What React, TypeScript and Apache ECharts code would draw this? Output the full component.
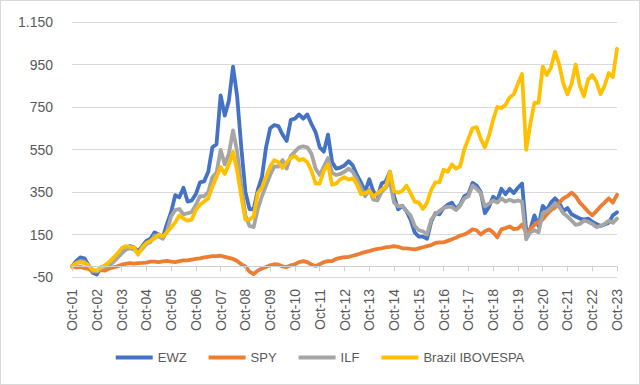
import React, { useEffect, useRef } from "react";
import * as echarts from "echarts";

const yearsShort = ["01","02","03","04","05","06","07","08","09","10","11","12","13","14","15","16","17","18","19","20","21","22","23"];
const monthNames = ["Oct", "Dec", "Feb", "Apr", "Jun", "Aug"];

const ewz = [0,25,42,38,5,-30,
-38,-5,0,5,25,50,
65,85,95,90,70,95,
120,130,160,150,137,200,
255,335,325,370,305,310,
340,395,400,445,560,575,
805,710,780,940,800,560,
350,270,268,360,420,560,
650,665,660,620,590,690,
695,715,695,715,670,632,
560,540,620,490,460,465,
475,495,475,430,395,352,
410,352,330,390,400,445,
330,268,285,260,220,160,
140,140,130,210,250,245,
275,290,300,270,290,330,
340,393,380,350,250,280,
328,310,365,340,365,345,
370,390,170,175,240,190,
285,265,300,320,300,260,
275,245,235,225,220,225,
210,200,190,197,205,240,
255];

const spy = [0,-5,-2,-8,-12,-25,
-22,-18,-20,-10,-5,0,
8,12,15,13,15,16,
18,22,22,20,23,26,
22,20,25,28,28,32,
35,38,42,45,48,48,
50,45,40,35,25,10,
0,-25,-36,-20,-10,-3,
5,10,8,0,-3,5,
10,20,25,20,8,2,
10,20,25,25,35,40,
43,45,50,55,62,67,
72,78,82,85,90,92,
95,92,85,85,82,80,
85,90,95,100,110,113,
113,120,128,135,145,150,
160,174,170,150,165,174,
160,137,174,180,188,175,
178,197,160,175,195,211,
220,245,265,277,300,320,
330,347,330,300,280,258,
240,260,282,300,320,300,
337];

const ilf = [0,15,25,22,5,-20,
-25,-10,-3,5,20,40,
60,78,85,80,62,82,
105,115,145,140,130,165,
235,265,270,245,250,255,
290,330,330,350,420,440,
548,480,530,640,540,380,
240,190,185,270,330,380,
430,470,470,500,460,520,
540,560,565,560,530,460,
430,470,510,440,430,435,
445,460,445,410,370,330,
360,314,310,350,370,400,
300,282,285,260,240,190,
170,165,150,220,245,260,
275,280,280,265,285,320,
330,380,365,345,282,295,
310,300,320,305,314,305,
310,305,127,160,170,160,
250,260,275,295,280,250,
235,215,195,200,215,210,
200,185,190,200,215,205,
225];

const ibovespa = [0,15,20,15,5,-15,
-20,-5,5,20,40,60,
85,95,92,90,55,90,
110,120,132,150,141,160,
183,207,240,225,215,220,
265,290,305,320,375,420,
468,435,480,538,450,330,
220,220,235,345,370,420,
470,500,490,463,490,510,
520,500,505,490,450,390,
390,450,480,384,390,410,
420,408,415,385,340,345,
355,328,345,360,375,445,
355,347,355,380,345,305,
300,270,300,360,395,395,
455,445,480,460,470,550,
600,650,655,600,560,615,
690,750,745,760,795,810,
860,905,548,670,770,770,
940,900,935,1010,950,860,
810,860,950,850,800,880,
900,870,810,850,910,890,
1024];

const seriesNames = ["EWZ", "SPY", "ILF", "Brazil IBOVESPA"];
const seriesColors = ["#4472C4", "#ED7D31", "#A5A5A5", "#FFC000"];

const Y_MIN = -50;
const Y_MAX = 1150;

function buildCategories(): string[] {
  const cats: string[] = [];
  for (let y = 0; y < yearsShort.length; y++) {
    for (let m = 0; m < monthNames.length; m++) {
      if (y === yearsShort.length - 1 && m > 0) break;
      const yr = m === 0 ? yearsShort[y] : yearsShort[y + 1];
      cats.push(monthNames[m] + "-" + yr);
    }
  }
  return cats;
}

const FONT = "'Liberation Sans', Arial, sans-serif";
const GRID_TOP = 21;
const GRID_BOTTOM = 107;
const HEIGHT = 385;
const AXIS_GRAY = "#cfcfcf";

export default function App() {
  const ref = useRef<HTMLDivElement>(null);
  useEffect(() => {
    if (!ref.current) return;
    const chart = echarts.init(ref.current, null, { renderer: "svg" });
    const categories = buildCategories();
    const everyOct = (i: number) => i % 6 === 0;
    const data = [ewz, spy, ilf, ibovespa];
    const plotH = HEIGHT - GRID_TOP - GRID_BOTTOM;
    const tickLenValue = (5 * (Y_MAX - Y_MIN)) / plotH;

    const zeroAxisData: any[] = [
      { yAxis: 0, lineStyle: { color: AXIS_GRAY, width: 1, type: "solid" } },
    ];
    categories.forEach((c, i) => {
      if (everyOct(i)) {
        zeroAxisData.push([
          { coord: [c, 0] },
          { coord: [c, -tickLenValue] },
        ]);
      }
    });

    chart.setOption({
      animation: false,
      backgroundColor: "#ffffff",
      textStyle: { fontFamily: FONT },
      grid: { left: 71, right: 22, top: GRID_TOP, bottom: GRID_BOTTOM, containLabel: false },
      legend: {
        top: 345,
        left: "center",
        icon: "rect",
        itemWidth: 37,
        itemHeight: 4,
        itemGap: 22,
        textStyle: { color: "#595959", fontSize: 13, fontFamily: FONT },
        data: seriesNames,
      },
      xAxis: {
        type: "category",
        data: categories,
        boundaryGap: false,
        axisLine: { show: false, onZero: false },
        axisTick: { show: false },
        splitLine: { show: false },
        axisLabel: {
          interval: everyOct,
          rotate: 90,
          color: "#595959",
          fontSize: 14,
          fontFamily: FONT,
          margin: 12,
        },
      },
      yAxis: {
        type: "value",
        min: Y_MIN,
        max: Y_MAX,
        interval: 200,
        axisLine: { show: false },
        axisTick: { show: false },
        splitLine: { lineStyle: { color: "#d9d9d9", width: 1 } },
        axisLabel: {
          color: "#595959",
          fontSize: 14,
          fontFamily: FONT,
          margin: 19,
          formatter: (v: number) =>
            v >= 1000 ? Math.floor(v / 1000) + "." + String(v % 1000).padStart(3, "0") : String(v),
        },
      },
      series: seriesNames.map((name, i) => ({
        name,
        type: "line",
        data: data[i],
        showSymbol: false,
        symbol: "none",
        color: seriesColors[i],
        lineStyle: { width: 3.8, color: seriesColors[i], join: "round", cap: "round" },
        markLine:
          i === 0
            ? {
                silent: true,
                symbol: ["none", "none"],
                label: { show: false },
                emphasis: { disabled: true },
                lineStyle: { color: AXIS_GRAY, width: 1, type: "solid" },
                data: zeroAxisData,
              }
            : undefined,
      })),
    });
    return () => chart.dispose();
  }, []);
  return (
    <div
      ref={ref}
      style={{
        position: "fixed",
        left: 0,
        top: 0,
        width: 640,
        height: 385,
        boxSizing: "border-box",
        border: "1px solid #d9d9d9",
        background: "#fff",
      }}
    />
  );
}
